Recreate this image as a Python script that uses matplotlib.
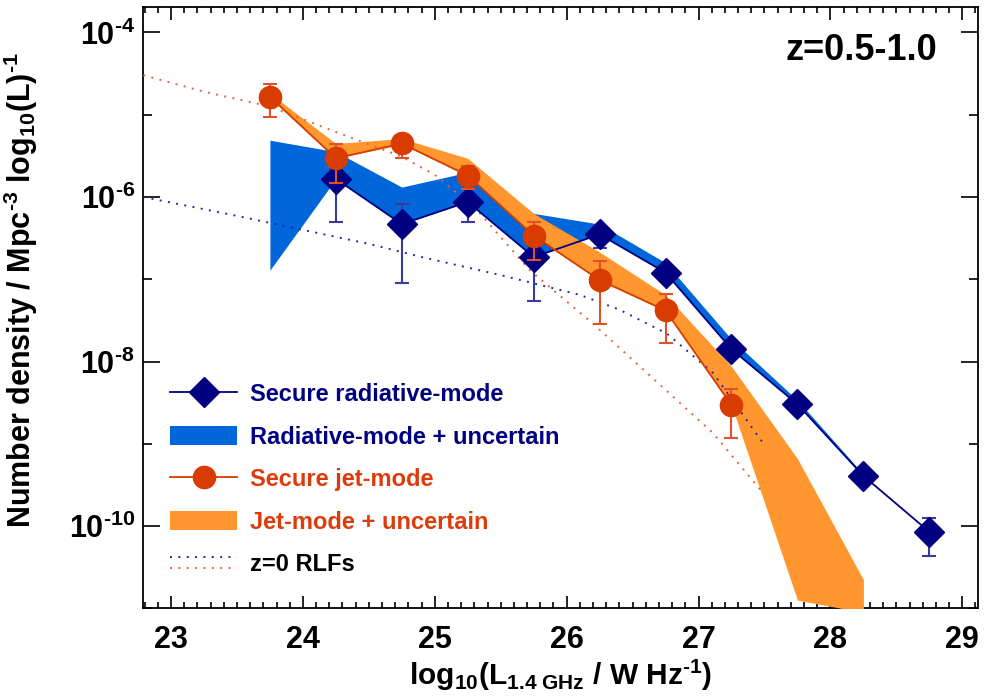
import numpy as np
import matplotlib
matplotlib.use("Agg")
import matplotlib.pyplot as plt
from matplotlib.lines import Line2D
from matplotlib.patches import Patch
from matplotlib.legend_handler import HandlerBase

plt.rcParams['font.family'] = ['Liberation Sans', 'DejaVu Sans']
plt.rcParams['font.weight'] = 'bold'
plt.rcParams['mathtext.fontset'] = 'custom'
plt.rcParams['mathtext.rm'] = 'Liberation Sans:bold'
plt.rcParams['mathtext.bf'] = 'Liberation Sans:bold'
plt.rcParams['mathtext.it'] = 'Liberation Sans:bold'
plt.rcParams['mathtext.sf'] = 'Liberation Sans:bold'
plt.rcParams['mathtext.default'] = 'rm'

# ---------------- data (log10 of number density) ----------------
# Secure radiative-mode
rad_x = [24.25, 24.75, 25.25, 25.75, 26.25, 26.75, 27.25, 27.75, 28.25, 28.75]
rad_y = [-5.78, -6.33, -6.06, -6.73, -6.455, -6.92, -7.85, -8.52, -9.39, -10.07]
rad_hi = [-5.65, -6.08, -5.95, -6.60, -6.36, -6.84, -7.79, -8.47, -9.31, -9.90]
rad_lo = [-6.31, -7.04, -6.30, -7.27, -6.62, -7.00, -7.91, -8.57, -9.47, -10.37]

# Radiative-mode + uncertain band
radb_x = [23.75, 24.25, 24.75, 25.25, 25.75, 26.25, 26.75, 27.25, 27.75, 28.25]
radb_up = [-5.31, -5.45, -5.88, -5.70, -6.20, -6.33, -6.80, -7.73, -8.47, -9.37]
radb_lo = [-6.89, -5.78, -6.33, -6.06, -6.73, -6.455, -6.92, -7.85, -8.52, -9.40]

# Secure jet-mode
jet_x = [23.75, 24.25, 24.75, 25.25, 25.75, 26.25, 26.75, 27.25]
jet_y = [-4.78, -5.53, -5.35, -5.74, -6.47, -7.01, -7.38, -8.53]
jet_hi = [-4.63, -5.36, -5.27, -5.62, -6.30, -6.78, -7.18, -8.33]
jet_lo = [-5.03, -5.83, -5.53, -5.90, -6.77, -7.55, -7.78, -8.93]

# Jet-mode + uncertain band
jetb_x = [23.75, 24.25, 24.75, 25.25, 25.75, 26.25, 26.75, 27.25, 27.75, 28.25]
jetb_up = [-4.74, -5.35, -5.29, -5.53, -6.20, -6.67, -7.19, -8.06, -9.18, -10.65]
jetb_lo = [-4.80, -5.53, -5.36, -5.74, -6.47, -7.01, -7.39, -8.53, -10.90, -11.05]

# z=0 RLFs (dotted)
rlf_rad_x = [22.79, 23.5, 24.0, 24.5, 24.9, 25.5, 26.1, 26.4, 26.76, 27.11, 27.48]
rlf_rad_y = [-6.00, -6.23, -6.40, -6.57, -6.73, -6.95, -7.19, -7.37, -7.66, -8.14, -8.97]
rlf_jet_x = [22.79, 23.25, 23.75, 24.25, 24.75, 25.0, 25.32, 25.72, 26.2, 26.61, 27.11, 27.47]
rlf_jet_y = [-4.52, -4.72, -4.90, -5.21, -5.51, -5.73, -6.16, -6.89, -7.54, -8.14, -8.87, -9.56]

xticks = [23, 24, 25, 26, 27, 28, 29]
ytick_exps = [-10, -8, -6, -4]

def lin(v):
    return 10.0 ** np.asarray(v, dtype=float)

NAVY = '#000080'
BLUE = '#0066D9'
ORANGE = '#FF962E'
RED = '#D83C00'
REDTXT = '#DD3C0A'
DOT_BLUE = '#2424A8'
DOT_RED = '#E8603C'
DOTS = (0, (1, 3.3))

fig = plt.figure(figsize=(9.85, 6.96), dpi=100)
ax = fig.add_axes([0.1455, 0.126, 0.8475, 0.864])
ax.set_yscale('log')
ax.set_xlim(22.79, 29.12)
ax.set_ylim(1e-11, 2.04e-4)

# bands
ax.fill_between(radb_x, lin(radb_lo), lin(radb_up), color=BLUE, lw=0, zorder=2)
ax.fill_between(jetb_x, lin(jetb_lo), lin(jetb_up), color=ORANGE, lw=0, zorder=3)

# dotted z=0
ax.plot(rlf_rad_x, lin(rlf_rad_y), color=DOT_BLUE, lw=1.4, ls=DOTS, zorder=4)
ax.plot(rlf_jet_x, lin(rlf_jet_y), color=DOT_RED, lw=1.4, ls=DOTS, zorder=4)

# secure radiative
ry = lin(rad_y)
ax.errorbar(rad_x, ry, yerr=[ry - lin(rad_lo), lin(rad_hi) - ry], fmt='none',
            ecolor='#3A3AA0', elinewidth=1.5, capsize=5, capthick=1.5, zorder=5)
ax.plot(rad_x, ry, color=NAVY, lw=1.3, marker='D', ms=15, mfc=NAVY, mec=NAVY, zorder=6)

# secure jet
jy = lin(jet_y)
ax.errorbar(jet_x, jy, yerr=[jy - lin(jet_lo), lin(jet_hi) - jy], fmt='none',
            ecolor='#E0502A', elinewidth=1.5, capsize=5, capthick=1.5, zorder=7)
ax.plot(jet_x, jy, color=RED, lw=1.3, marker='o', ms=16, mfc=RED, mec=RED, zorder=8)

# axes styling
for s in ax.spines.values():
    s.set_linewidth(1.3)
ax.set_xticks(xticks)
ax.set_xticklabels([str(t) for t in xticks])
ax.set_xticks(np.arange(22.8, 29.15, 0.1), minor=True)
ax.set_yticks([10.0 ** e for e in ytick_exps])
ax.set_yticklabels([r'$10^{\text{%d}}$' % e for e in ytick_exps])
ax.set_yticks([10.0 ** e for e in [-11, -9, -7, -5]], minor=True)
ax.yaxis.set_minor_formatter(matplotlib.ticker.NullFormatter())
ax.tick_params(axis='both', which='both', direction='in', top=True, right=True,
               labelsize=22, width=1.2)
ax.tick_params(axis='x', which='major', length=9, pad=12)
ax.tick_params(axis='x', which='minor', length=4.5)
ax.tick_params(axis='y', which='major', length=12, pad=6)
ax.tick_params(axis='y', which='minor', length=6.5)

ax.set_xlabel(r'log$_{\text{10}}$(L$_{\text{1.4 GHz}}$ / W Hz$^{\text{-1}}$)',
              fontsize=21.5, fontweight='bold', labelpad=2)
ax.set_ylabel(r'Number density / Mpc$^{\text{-3}}$ log$_{\text{10}}$(L)$^{\text{-1}}$',
              fontsize=22, fontweight='bold')
ax.yaxis.set_label_coords(-0.124, 0.53)

ax.text(0.951, 0.928, 'z=0.5-1.0', transform=ax.transAxes, ha='right', va='center',
        fontsize=26, fontweight='bold', color='black')

# legend
class StackHandle(tuple):
    pass

class HandlerStack(HandlerBase):
    def create_artists(self, legend, orig_handle, xdescent, ydescent, width, height,
                       fontsize, trans):
        arts = []
        for i, h in enumerate(orig_handle):
            y = height * (0.8 - 0.55 * i) - ydescent
            l = Line2D([-xdescent, width - xdescent], [y, y], color=h.get_color(),
                       linestyle=DOTS, linewidth=h.get_linewidth())
            l.set_transform(trans)
            arts.append(l)
        return arts

h1 = Line2D([], [], color=NAVY, lw=1.3, marker='D', ms=15, mfc=NAVY, mec=NAVY)
h2 = Patch(facecolor=BLUE, edgecolor='none')
h3 = Line2D([], [], color=RED, lw=1.3, marker='o', ms=16, mfc=RED, mec=RED)
h4 = Patch(facecolor=ORANGE, edgecolor='none')
h5 = StackHandle((Line2D([], [], color=DOT_BLUE, lw=1.4),
                  Line2D([], [], color=DOT_RED, lw=1.4)))
labels = ['Secure radiative-mode', 'Radiative-mode + uncertain', 'Secure jet-mode',
          'Jet-mode + uncertain', 'z=0 RLFs']
leg = ax.legend([h1, h2, h3, h4, h5], labels, loc='lower left',
                bbox_to_anchor=(0.032, 0.053), frameon=False,
                prop={'family': 'Liberation Sans', 'weight': 'bold', 'size': 17},
                handlelength=2.85, handleheight=0.9, handletextpad=0.55,
                labelspacing=0.83, borderaxespad=0.0, borderpad=0.0,
                handler_map={StackHandle: HandlerStack()})
for t, c in zip(leg.get_texts(), [NAVY, NAVY, REDTXT, REDTXT, 'black']):
    t.set_color(c)

fig.savefig('out.png', dpi=100)
